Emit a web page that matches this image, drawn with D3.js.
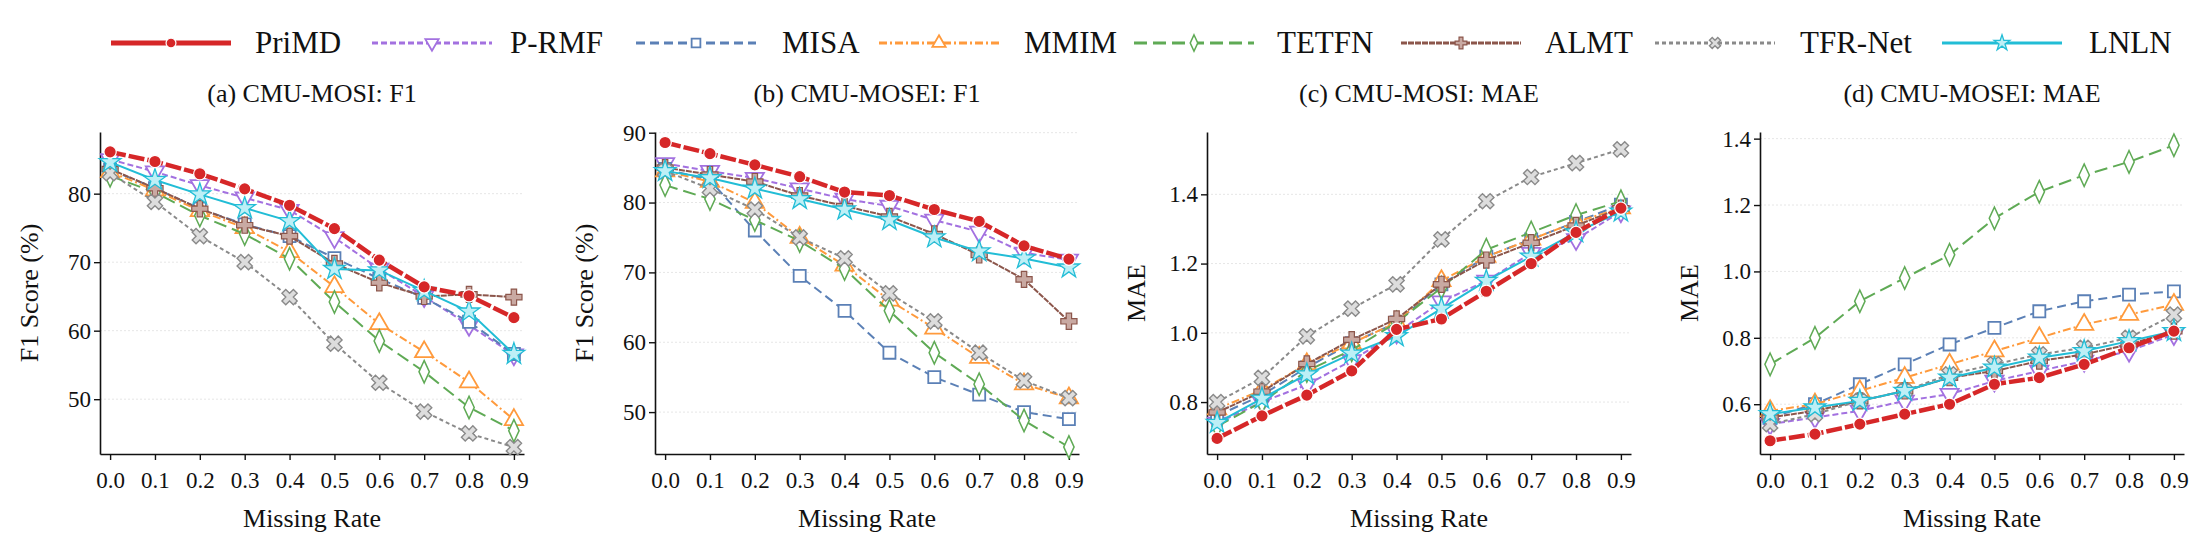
<!DOCTYPE html>
<html>
<head>
<meta charset="utf-8">
<script src="https://cdn.jsdelivr.net/npm/d3@7"></script>
<style>
  body { margin: 0; background: #fff; }
  text { font-family: "Liberation Serif", "DejaVu Serif", serif; fill: #111; }
</style>
</head>
<body>
<script>
// missing rates on x axis
let rates = [0.0, 0.1, 0.2, 0.3, 0.4, 0.5, 0.6, 0.7, 0.8, 0.9];
let methods = ["PriMD", "P-RMF", "MISA", "MMIM", "TETFN", "ALMT", "TFR-Net", "LNLN"];

// (a) CMU-MOSI F1
let mosiF1 = [
  [86.1, 84.7, 82.9, 80.7, 78.3, 74.9, 70.3, 66.4, 65.1, 61.9],
  [85.0, 83.2, 81.2, 79.4, 77.6, 73.6, 69.0, 65.0, 60.8, 56.5],
  [83.5, 80.8, 77.8, 75.5, 73.8, 70.6, 67.6, 64.8, 61.3, 56.6],
  [83.2, 80.5, 77.5, 75.0, 71.5, 66.4, 61.0, 56.9, 52.5, 47.0],
  [82.6, 80.2, 76.8, 74.1, 70.5, 64.2, 58.5, 54.0, 48.8, 45.4],
  [83.6, 80.8, 77.8, 75.4, 73.8, 69.8, 67.0, 65.0, 65.3, 64.9],
  [83.0, 78.8, 73.8, 70.0, 64.9, 58.1, 52.4, 48.2, 45.0, 43.0],
  [84.6, 82.0, 79.9, 77.9, 76.0, 69.0, 68.8, 65.8, 62.8, 56.6]
];
// (b) CMU-MOSEI F1
let moseiF1 = [
  [88.6, 87.0, 85.4, 83.7, 81.5, 81.0, 79.0, 77.3, 73.8, 71.9],
  [85.6, 84.5, 83.5, 82.0, 80.5, 79.5, 77.5, 75.8, 72.8, 71.8],
  [84.8, 83.2, 76.0, 69.5, 64.5, 58.5, 55.0, 52.5, 50.0, 49.0],
  [84.5, 83.0, 80.0, 75.0, 71.0, 66.0, 62.0, 57.8, 54.0, 52.0],
  [82.5, 80.5, 77.5, 74.5, 70.5, 64.5, 58.5, 54.0, 48.8, 45.0],
  [85.0, 84.0, 83.0, 81.0, 79.5, 78.0, 75.5, 72.5, 69.0, 63.0],
  [84.5, 82.0, 79.0, 75.0, 72.0, 67.0, 63.0, 58.5, 54.5, 52.0],
  [84.5, 83.5, 82.0, 80.5, 79.0, 77.5, 75.0, 73.0, 72.0, 70.7]
];
// (c) CMU-MOSI MAE
let mosiMAE = [
  [0.695, 0.76, 0.82, 0.89, 1.01, 1.04, 1.12, 1.20, 1.29, 1.36],
  [0.74, 0.80, 0.85, 0.92, 1.00, 1.09, 1.15, 1.23, 1.27, 1.35],
  [0.76, 0.82, 0.90, 0.97, 1.03, 1.14, 1.22, 1.27, 1.32, 1.37],
  [0.78, 0.835, 0.91, 0.97, 1.03, 1.15, 1.22, 1.27, 1.32, 1.36],
  [0.73, 0.80, 0.89, 0.95, 1.03, 1.13, 1.24, 1.29, 1.34, 1.38],
  [0.77, 0.83, 0.91, 0.98, 1.04, 1.14, 1.21, 1.26, 1.31, 1.36],
  [0.80, 0.87, 0.99, 1.07, 1.14, 1.27, 1.38, 1.45, 1.49, 1.53],
  [0.74, 0.81, 0.88, 0.94, 0.99, 1.07, 1.15, 1.22, 1.29, 1.35]
];
// (d) CMU-MOSEI MAE
let moseiMAE = [
  [0.49, 0.51, 0.54, 0.57, 0.60, 0.66, 0.68, 0.72, 0.77, 0.82],
  [0.54, 0.56, 0.58, 0.61, 0.63, 0.67, 0.70, 0.73, 0.76, 0.81],
  [0.56, 0.60, 0.66, 0.72, 0.78, 0.83, 0.88, 0.91, 0.93, 0.94],
  [0.58, 0.60, 0.64, 0.68, 0.72, 0.76, 0.80, 0.84, 0.87, 0.90],
  [0.72, 0.80, 0.91, 0.98, 1.05, 1.16, 1.24, 1.29, 1.33, 1.38],
  [0.56, 0.58, 0.61, 0.64, 0.68, 0.70, 0.73, 0.75, 0.78, 0.82],
  [0.54, 0.57, 0.61, 0.64, 0.69, 0.72, 0.75, 0.77, 0.80, 0.87],
  [0.57, 0.59, 0.61, 0.64, 0.68, 0.71, 0.74, 0.76, 0.79, 0.82]
];

let titles = ["(a) CMU-MOSI: F1", "(b) CMU-MOSEI: F1", "(c) CMU-MOSI: MAE", "(d) CMU-MOSEI: MAE"];
let yLabels = ["F1 Score (%)", "F1 Score (%)", "MAE", "MAE"];
let yTicks = [[50, 60, 70, 80], [50, 60, 70, 80, 90], [0.8, 1.0, 1.2, 1.4], [0.6, 0.8, 1.0, 1.2, 1.4]];
let yDomains = [[42, 89], [44, 90.1], [0.65, 1.58], [0.45, 1.42]];
let panelData = [mosiF1, moseiF1, mosiMAE, moseiMAE];

// look of each method
let styles = [
  {c: "#d62728", w: 4.5, dash: "16,3", m: "circle"},
  {c: "#a371e0", w: 2, dash: "6,3", m: "triDown"},
  {c: "#5b80b6", w: 2, dash: "9,5", m: "square"},
  {c: "#ff9a3c", w: 2, dash: "8,3,2,3", m: "triUp"},
  {c: "#5faa55", w: 2, dash: "13,6", m: "diamond"},
  {c: "#8c564b", w: 2, dash: "6,1", m: "plus"},
  {c: "#8a8a8a", w: 2, dash: "4,3", m: "x"},
  {c: "#22bdd6", w: 2, dash: null, m: "star"}
];

let svg = d3.select("body").append("svg").attr("width", 2200).attr("height", 549);

function markerPath(type, s) {
  let map = {circle: d3.symbolCircle, square: d3.symbolSquare, triUp: d3.symbolTriangle, triDown: d3.symbolTriangle,
    diamond: d3.symbolDiamond, plus: d3.symbolCross, x: d3.symbolCross, star: d3.symbolStar};
  return d3.symbol(map[type], s * s * 1.2)();
}

function drawMarker(g, x, y, st, size) {
  let p = g.append("path")
    .attr("d", markerPath(st.m, size))
    .attr("transform", "translate(" + x + "," + y + ")" +
      (st.m == "triDown" ? " rotate(180)" : st.m == "x" ? " rotate(45)" : "") +
      (st.m == "diamond" ? " scale(0.8,1)" : ""));
  if (st.m == "circle") p.attr("fill", st.c).attr("stroke", "#fff").attr("stroke-width", 1.2);
  else if (st.m == "plus") p.attr("fill", "#c9a9a2").attr("stroke", st.c).attr("stroke-width", 1.2);
  else if (st.m == "x") p.attr("fill", "#ddd").attr("stroke", st.c).attr("stroke-width", 1.4);
  else if (st.m == "star") p.attr("fill", "#bdeff6").attr("stroke", st.c).attr("stroke-width", 1.3);
  else p.attr("fill", "#fff").attr("stroke", st.c).attr("stroke-width", 1.8);
}

// panel placement
let lefts = [100, 655, 1207, 1760];
let plotW = 424, plotTop = 132, plotBottom = 454;

panelData.forEach((series, pi) => {
  let g = svg.append("g");
  let x = d3.scaleLinear().domain([-0.0225, 0.9225]).range([lefts[pi], lefts[pi] + plotW]);
  let y = d3.scaleLinear().domain(yDomains[pi]).range([plotBottom, plotTop]);

  // faint grid
  yTicks[pi].forEach(t => g.append("line")
    .attr("x1", lefts[pi]).attr("x2", lefts[pi] + plotW)
    .attr("y1", y(t)).attr("y2", y(t))
    .attr("stroke", "#e6e6e6").attr("stroke-dasharray", "2,2").attr("stroke-width", 1));

  let fmt = pi < 2 ? d3.format("d") : d3.format(".1f");
  let ya = g.append("g").attr("transform", "translate(" + lefts[pi] + ",0)")
    .call(d3.axisLeft(y).tickValues(yTicks[pi]).tickFormat(fmt).tickSize(6).tickSizeOuter(0));
  let xa = g.append("g").attr("transform", "translate(0," + plotBottom + ")")
    .call(d3.axisBottom(x).tickValues(rates).tickFormat(d3.format(".1f")).tickSize(6).tickSizeOuter(0));
  [ya, xa].forEach(a => {
    a.select(".domain").attr("stroke", "#111").attr("stroke-width", 1.6);
    a.selectAll(".tick line").attr("stroke", "#111").attr("stroke-width", 1.4);
    a.selectAll("text").style("font-size", "23px").attr("fill", "#111");
  });
  xa.selectAll("text").attr("dy", "1.1em");

  g.append("text").attr("x", lefts[pi] + plotW / 2).attr("y", 102)
    .attr("text-anchor", "middle").style("font-size", "26px").text(titles[pi]);
  g.append("text").attr("x", lefts[pi] + plotW / 2).attr("y", 527)
    .attr("text-anchor", "middle").style("font-size", "26px").text("Missing Rate");
  g.append("text")
    .attr("transform", "translate(" + (lefts[pi] - 62) + "," + ((plotTop + plotBottom) / 2) + ") rotate(-90)")
    .attr("text-anchor", "middle").style("font-size", "26px").text(yLabels[pi]);

  let line = d3.line().x((d, i) => x(rates[i])).y(d => y(d));
  // draw PriMD last so it sits on top
  let order = [1, 2, 3, 4, 5, 6, 7, 0];
  order.forEach(mi => {
    let st = styles[mi];
    g.append("path").datum(series[mi]).attr("d", line)
      .attr("fill", "none").attr("stroke", st.c).attr("stroke-width", st.w)
      .attr("stroke-dasharray", st.dash);
    series[mi].forEach((v, i) => drawMarker(g, x(rates[i]), y(v), st, mi == 0 ? 10 : 11));
  });
});

// legend across the top
let legX = [111, 372, 636, 879, 1134, 1401, 1655, 1942];
let legTextX = [255, 510, 782, 1024, 1277, 1545, 1800, 2089];
methods.forEach((m, i) => {
  let st = styles[i];
  let x1 = legX[i], x2 = legX[i] + 120, ly = 43;
  svg.append("line").attr("x1", x1).attr("x2", x2).attr("y1", ly).attr("y2", ly)
    .attr("stroke", st.c).attr("stroke-width", i == 0 ? 5 : 3).attr("stroke-dasharray", i == 0 ? null : st.dash);
  drawMarker(svg, (x1 + x2) / 2, ly, st, 8);
  svg.append("text").attr("x", legTextX[i]).attr("y", ly + 10).style("font-size", "31px").text(m);
});
</script>
</body>
</html>
